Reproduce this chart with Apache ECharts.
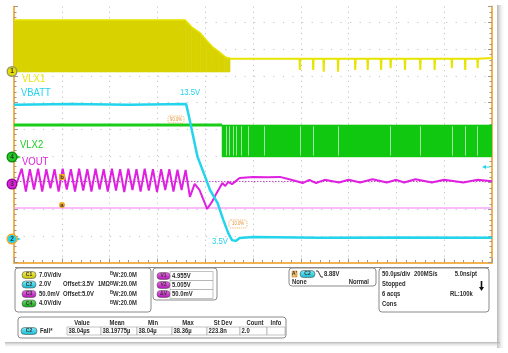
<!DOCTYPE html>
<html>
<head>
<meta charset="utf-8">
<script src="https://cdn.jsdelivr.net/npm/echarts@6/dist/echarts.min.js"></script>
<style>
html,body{margin:0;padding:0;background:#fff}
#scope{width:508px;height:353px}
</style>
</head>
<body>
<div id="scope"></div>
<script>
// x: time in µs (50 µs/div), y: screen divisions counted from graticule bottom

// VLX1 (yellow) switching node: envelope of the burst, then the idle level with spikes
var vlx1Times = [0, 179, 186, 195, 201, 208, 215, 220, 223, 226];
var vlx1Top = [9.09, 9.09, 8.83, 8.60, 8.34, 8.08, 7.89, 7.74, 7.67, 7.67];
var vlx1Ground = 7.14;
var vlx1Idle = 7.64;
var vlx1SpikeTimes = [299, 313, 324, 339, 357, 370, 384, 394, 409, 425, 440, 458, 472, 485];
var vlx1SpikeLows = [7.22, 7.22, 7.15, 7.15, 7.22, 7.22, 7.22, 7.29, 7.22, 7.22, 7.22, 7.29, 7.22, 7.29];

// VBATT (cyan)
var vbattTimes = [0, 60, 120, 180, 182, 186, 192, 200, 205, 213, 219, 224, 228, 232, 236, 250, 320, 400, 500];
var vbattDiv = [5.92, 5.94, 5.92, 5.94, 5.64, 4.97, 3.96, 3.21, 2.72, 2.23, 1.59, 1.11, 0.84, 0.81, 0.92, 0.96, 0.93, 0.94, 0.93];

// VLX2 (green)
var vlx2Start = 217.6;
var vlx2Low = 3.96;
var vlx2High = 5.16;
var vlx2Stripes = [222, 225, 229, 233, 238, 245, 262, 299, 313, 339, 394, 425, 458, 472, 485];

// VOUT (magenta)
var voutTimes = [3, 8.1, 12.4, 16.6, 20.9, 25.2, 29.5, 33.8, 38.1, 42.4, 46.7, 50.9, 55.2, 59.5, 63.8,
  68.1, 72.4, 76.7, 81.0, 85.3, 89.5, 93.8, 98.1, 102.4, 106.7, 111.0, 115.3, 119.6, 123.9, 128.1,
  132.4, 136.7, 141.0, 145.3, 149.6, 153.9, 158.2, 162.5, 166.8, 171.0, 175.3, 179.5,
  184, 189, 194, 202, 207, 212, 218, 221, 224, 228, 236, 250, 265, 278, 290, 302, 309, 316, 325,
  340, 350, 362, 375, 390, 400, 408, 420, 437, 450, 470, 485, 500];
var voutDiv = [3.0, 3.52, 2.66, 3.50, 2.74, 3.52, 2.66, 3.50, 2.78, 3.50, 2.66, 3.52, 2.74, 3.50, 2.66,
  3.52, 2.70, 3.50, 2.66, 3.52, 2.74, 3.50, 2.66, 3.52, 2.70, 3.50, 2.64, 3.52, 2.72, 3.50,
  2.66, 3.52, 2.70, 3.50, 2.64, 3.50, 2.72, 3.50, 2.66, 3.48, 2.72, 3.47,
  2.46, 2.95, 2.72, 2.01, 2.27, 2.61, 2.98, 2.87, 3.02, 2.94, 3.17, 3.21, 3.20, 3.21, 3.10, 2.98, 3.10, 2.98, 3.10,
  3.00, 3.10, 3.00, 3.12, 3.00, 3.10, 3.00, 3.12, 3.00, 3.10, 3.00, 3.10, 3.05];

// cursor levels (V1 = 4.955V, V2 = 5.005V on ch3)
var cursorV1 = 2.04;
var cursorV2 = 3.04;

var FONT = '"Liberation Sans", Arial, sans-serif';

function pairs(xs, ys) {
  var out = [];
  for (var i = 0; i < xs.length; i++) out.push([xs[i], ys[i]]);
  return out;
}

function vlx1TailData() {
  var d = [[vlx1Times[vlx1Times.length - 1], vlx1Idle]];
  for (var i = 0; i < vlx1SpikeTimes.length; i++) {
    var t = vlx1SpikeTimes[i];
    d.push([t - 0.4, vlx1Idle], [t, vlx1SpikeLows[i]], [t + 0.4, vlx1Idle]);
  }
  d.push([500, 7.67]);
  return d;
}

// filled envelope between two levels, drawn through the chart's own coordinate system
function bandSeries(name, times, lows, highs, fill, z) {
  var rows = times.map(function (t, i) { return [t, lows[i], highs[i]]; });
  return {
    name: name, type: 'custom', silent: true, z: z, clip: true,
    encode: {x: 0, y: [1, 2]},
    data: rows,
    renderItem: function (params, api) {
      var i = params.dataIndex;
      if (i >= rows.length - 1) return null;
      var a = rows[i], b = rows[i + 1];
      return {
        type: 'polygon',
        shape: {points: [api.coord([a[0], a[2]]), api.coord([b[0], b[2]]), api.coord([b[0], b[1]]), api.coord([a[0], a[1]])]},
        style: {fill: fill, stroke: fill, lineWidth: 0.5}
      };
    }
  };
}

// text squeezed horizontally to mimic the scope's narrow font
function txt(x, y, s, color, size, align, weight, sx) {
  return {
    type: 'text', x: x, y: y, z: 100, silent: true, scaleX: sx || 0.84,
    style: {text: s, x: 0, y: 0, fill: color, font: (weight || 'normal') + ' ' + size + 'px ' + FONT,
      textAlign: align || 'left', textVerticalAlign: 'middle'}
  };
}

function box(x, y, w, h) {
  return {type: 'rect', z: 90, silent: true, shape: {x: x, y: y, width: w, height: h, r: 3},
    style: {fill: '#fff', stroke: '#8a8a8a', lineWidth: 1}};
}

function cell(x, y, w, h) {
  return {type: 'rect', z: 91, silent: true, shape: {x: x, y: y, width: w, height: h},
    style: {fill: '#fff', stroke: '#9a9a9a', lineWidth: 0.6}};
}

function badge(x, y, w, label, c1, c2) {
  return {
    type: 'group', z: 95, silent: true,
    children: [
      {type: 'rect', z: 95, shape: {x: x, y: y - 3.5, width: w, height: 7, r: 3.5},
        style: {fill: new echarts.graphic.LinearGradient(0, 0, 0, 1, [{offset: 0, color: c1}, {offset: 1, color: c2}]),
          stroke: '#555', lineWidth: 0.6}},
      {type: 'text', z: 96, x: x + w / 2, y: y,
        style: {text: label, fill: '#333', font: 'bold 5px ' + FONT, textAlign: 'center', textVerticalAlign: 'middle'}}
    ]
  };
}

function chMarker(y, num, fill, ring, arrow) {
  var kids = [
    {type: 'circle', z: 100, shape: {cx: 12, cy: y, r: 4.8}, style: {fill: fill, stroke: ring, lineWidth: 1.4}},
    {type: 'text', z: 101, x: 12, y: y, style: {text: num, fill: '#333', font: 'bold 6.5px ' + FONT, textAlign: 'center', textVerticalAlign: 'middle'}}
  ];
  if (arrow) {
    kids.push({type: 'polygon', z: 99, shape: {points: [[16, y - 2], [21, y], [16, y + 2]]}, style: {fill: arrow}});
  }
  return {type: 'group', silent: true, children: kids};
}

function bwText(x, y) {
  return {
    type: 'text', x: x, y: y, z: 100, silent: true, scaleX: 0.84,
    style: {
      text: '{b|B}{w|W}{n|:20.0M}', x: 0, y: 0, textVerticalAlign: 'middle',
      rich: {
        b: {font: 'bold 5px ' + FONT, fill: '#333', verticalAlign: 'top'},
        w: {font: 'bold 7px ' + FONT, fill: '#333'},
        n: {font: 'bold 7px ' + FONT, fill: '#333'}
      }
    }
  };
}

var dark = '#2b2b2b';
var PS = 7;
var graphics = [
  // window shadow
  {type: 'rect', z: 1, silent: true, shape: {x: 497, y: 5, width: 8, height: 343},
    style: {fill: new echarts.graphic.LinearGradient(0, 0, 1, 0, [{offset: 0, color: '#b4b4b4'}, {offset: 1, color: 'rgba(255,255,255,0)'}])}},
  {type: 'rect', z: 1, silent: true, shape: {x: 5, y: 342, width: 495, height: 6},
    style: {fill: new echarts.graphic.LinearGradient(0, 0, 0, 1, [{offset: 0, color: '#b4b4b4'}, {offset: 1, color: 'rgba(255,255,255,0)'}])}},
  {type: 'line', z: 89, silent: true, shape: {x1: 15, y1: 267.5, x2: 489, y2: 267.5}, style: {stroke: '#8a8a8a', lineWidth: 1}},

  // trace labels
  txt(22, 79, 'VLX1', '#ece400', 11, 'left', 'normal', 0.86),
  txt(21, 92.5, 'VBATT', '#22d4ec', 11, 'left', 'normal', 0.86),
  txt(20, 144.5, 'VLX2', '#22cc22', 11, 'left', 'normal', 0.86),
  txt(22, 161.5, 'VOUT', '#e020e0', 11, 'left', 'normal', 0.86),
  txt(180, 93, '13.5V', '#22d4ec', 9, 'left', 'normal', 0.86),
  txt(212, 241.5, '3.5V', '#22d4ec', 9, 'left', 'normal', 0.86),

  // 90% / 10% reference boxes
  {type: 'rect', z: 100, silent: true, shape: {x: 168, y: 116, width: 16, height: 7, r: 2},
    style: {fill: 'rgba(255,255,255,0.85)', stroke: '#f0a040', lineWidth: 0.8, lineDash: [1.2, 1]}},
  txt(176, 119.5, '90.0%', '#e08a30', 5, 'center'),
  {type: 'rect', z: 100, silent: true, shape: {x: 229, y: 220, width: 18, height: 8, r: 2},
    style: {fill: 'rgba(255,255,255,0.85)', stroke: '#f0a040', lineWidth: 0.8, lineDash: [1.2, 1]}},
  txt(238, 224, '10.0%', '#e08a30', 5, 'center'),

  // cursor tags
  {type: 'rect', z: 100, silent: true, shape: {x: 59, y: 174, width: 6, height: 6}, style: {fill: '#f5a623'}},
  txt(62, 177, 'b', '#333', 6, 'center', 'bold', 1),
  {type: 'rect', z: 100, silent: true, shape: {x: 59, y: 202, width: 6, height: 6, r: 3}, style: {fill: '#f5a623'}},
  txt(62, 205, 'a', '#333', 6, 'center', 'bold', 1),

  // channel ground markers
  chMarker(71.5, '1', '#e6de00', '#9a9a60'),
  chMarker(157, '4', '#22cc22', '#118811', '#22cc22'),
  chMarker(184, '3', '#e020e0', '#901090'),
  chMarker(239, '2', '#22d4ec', '#f5a623', '#22d4ec'),
  {type: 'polygon', z: 100, silent: true, shape: {points: [[482, 167], [486, 165], [486, 169]]}, style: {fill: '#22d4ec'}},
  {type: 'line', z: 100, silent: true, shape: {x1: 485, y1: 167, x2: 490, y2: 167}, style: {stroke: '#22d4ec', lineWidth: 1}},

  // channel settings box
  box(15, 268, 136, 44),
  badge(22, 275, 14, 'C1', '#f4f060', '#c8c000'),
  txt(39, 275, '7.0V/div', dark, PS, 'left', 'bold'),
  bwText(110, 275),
  badge(22, 284.5, 14, 'C2', '#80eefa', '#10b8d0'),
  txt(39, 284.5, '2.0V', dark, PS, 'left', 'bold'),
  txt(63, 284.5, 'Offset:3.5V', dark, PS, 'left', 'bold'),
  txt(98, 284.5, '1MΩ', dark, PS, 'left', 'bold', 0.78),
  bwText(110, 284.5),
  badge(22, 294, 14, 'C3', '#f070f0', '#b010b0'),
  txt(39, 294, '50.0mV', dark, PS, 'left', 'bold'),
  txt(63, 294, 'Offset:5.0V', dark, PS, 'left', 'bold'),
  bwText(110, 294),
  badge(22, 303.5, 14, 'C4', '#70e070', '#10a010'),
  txt(39, 303.5, '4.0V/div', dark, PS, 'left', 'bold'),
  bwText(110, 303.5),

  // cursor readout box
  box(153, 268, 64, 32),
  cell(170, 271.5, 43, 9), cell(170, 280.5, 43, 9), cell(170, 289.5, 43, 9),
  badge(157, 276, 13, 'V1', '#f070f0', '#b010b0'),
  txt(172, 276, '4.955V', dark, PS, 'left', 'bold'),
  badge(157, 285, 13, 'V2', '#f070f0', '#b010b0'),
  txt(172, 285, '5.005V', dark, PS, 'left', 'bold'),
  badge(157, 294, 13, 'ΔV', '#f070f0', '#b010b0'),
  txt(172, 294, '50.0mV', dark, PS, 'left', 'bold'),

  // trigger box
  box(289, 268, 87, 18),
  {type: 'rect', z: 95, silent: true, shape: {x: 292, y: 271, width: 5, height: 6}, style: {fill: '#f5c060', stroke: '#b07020', lineWidth: 0.5}},
  txt(294.5, 274, "A'", '#333', 5, 'center', 'bold', 1),
  badge(300, 274, 15, 'C2', '#80eefa', '#10b8d0'),
  {type: 'polyline', z: 95, silent: true, shape: {points: [[316, 271], [318, 271], [321, 277], [323, 277]]}, style: {stroke: '#222', lineWidth: 0.9, fill: null}},
  txt(324, 274, '8.88V', dark, PS, 'left', 'bold'),
  txt(292, 282, 'None', dark, PS, 'left', 'bold'),
  txt(369, 282, 'Normal', dark, PS, 'right', 'bold'),

  // acquisition box
  box(379, 268, 110, 44),
  txt(382, 274.5, '50.0µs/div', dark, PS, 'left', 'bold'),
  txt(414, 274.5, '200MS/s', dark, PS, 'left', 'bold'),
  txt(477, 274.5, '5.0ns/pt', dark, PS, 'right', 'bold'),
  txt(382, 284.5, 'Stopped', dark, PS, 'left', 'bold'),
  {type: 'line', z: 95, silent: true, shape: {x1: 481.5, y1: 281, x2: 481.5, y2: 288}, style: {stroke: '#111', lineWidth: 1.6}},
  {type: 'polygon', z: 95, silent: true, shape: {points: [[479, 287], [484, 287], [481.5, 291]]}, style: {fill: '#111'}},
  txt(382, 294.5, '6 acqs', dark, PS, 'left', 'bold'),
  txt(450, 294.5, 'RL:100k', dark, PS, 'left', 'bold'),
  txt(382, 304.5, 'Cons', dark, PS, 'left', 'bold'),

  // measurement box
  box(18, 317, 268, 21),
  txt(82, 323.5, 'Value', dark, PS, 'center', 'bold'),
  txt(117, 323.5, 'Mean', dark, PS, 'center', 'bold'),
  txt(153, 323.5, 'Min', dark, PS, 'center', 'bold'),
  txt(188, 323.5, 'Max', dark, PS, 'center', 'bold'),
  txt(223, 323.5, 'St Dev', dark, PS, 'center', 'bold'),
  txt(255, 323.5, 'Count', dark, PS, 'center', 'bold'),
  txt(276, 323.5, 'Info', dark, PS, 'center', 'bold'),
  cell(67, 327, 34, 8), cell(101, 327, 36, 8), cell(137, 327, 35, 8), cell(172, 327, 35, 8),
  cell(207, 327, 33, 8), cell(240, 327, 27, 8), cell(267, 327, 18, 8),
  badge(21, 331, 16, 'C2', '#80eefa', '#10b8d0'),
  txt(40, 331, 'Fall*', dark, PS, 'left', 'bold'),
  txt(68.5, 331, '38.04µs', dark, PS, 'left', 'bold'),
  txt(102.5, 331, '38.19775µ', dark, PS, 'left', 'bold'),
  txt(138.5, 331, '38.04µ', dark, PS, 'left', 'bold'),
  txt(173.5, 331, '38.36µ', dark, PS, 'left', 'bold'),
  txt(208.5, 331, '223.8n', dark, PS, 'left', 'bold'),
  txt(241.5, 331, '2.0', dark, PS, 'left', 'bold')
];

var tickColor = '#9a9a9a';
var frameColor = '#f4b24e';

var option = {
  animation: false,
  backgroundColor: '#fff',
  grid: {left: 14, top: 6.5, width: 478, height: 256, containLabel: false},
  xAxis: {
    type: 'value', min: 0, max: 500, interval: 50,
    axisLine: {show: true, onZero: false, lineStyle: {color: frameColor, width: 2}},
    axisTick: {show: true, inside: true, length: 4, lineStyle: {color: tickColor}},
    minorTick: {show: true, splitNumber: 5, length: 2.5, lineStyle: {color: tickColor}},
    axisLabel: {show: false},
    splitLine: {show: true, lineStyle: {color: '#c4c4c4', width: 1, type: [1.2, 4.1]}}
  },
  yAxis: [{
    type: 'value', min: 0, max: 9.6, interval: 1, position: 'left',
    axisLine: {show: true, onZero: false, lineStyle: {color: frameColor, width: 2}},
    axisTick: {show: true, inside: true, length: 4, lineStyle: {color: tickColor}},
    minorTick: {show: true, splitNumber: 5, length: 2.5, lineStyle: {color: tickColor}},
    axisLabel: {show: false},
    splitLine: {show: true, showMaxLine: false, showMinLine: false, lineStyle: {color: '#c4c4c4', width: 1, type: [1.2, 8.4]}}
  }, {
    type: 'value', min: 0, max: 9.6, interval: 1, position: 'right',
    axisLine: {show: true, onZero: false, lineStyle: {color: frameColor, width: 2}},
    axisTick: {show: true, inside: true, length: 4, lineStyle: {color: tickColor}},
    minorTick: {show: true, splitNumber: 5, length: 2.5, lineStyle: {color: tickColor}},
    axisLabel: {show: false},
    splitLine: {show: false}
  }],
  graphic: graphics,
  series: [
    {name: 'V1', type: 'line', symbol: 'none', silent: true, z: 2,
      data: [[0, cursorV1], [500, cursorV1]], lineStyle: {color: '#f7a8f7', width: 1.5}},
    {name: 'V2', type: 'line', symbol: 'none', silent: true, z: 2,
      data: [[0, cursorV2], [500, cursorV2]], lineStyle: {color: '#c040c0', width: 1, type: [1.5, 1.5]}},
    bandSeries('VLX1 burst', vlx1Times, vlx1Times.map(function () { return vlx1Ground; }), vlx1Top, '#d7d200', 3),
    {name: 'VLX1', type: 'line', symbol: 'none', silent: true, z: 3,
      data: pairs(vlx1Times, vlx1Top), lineStyle: {color: '#e8e400', width: 1.5}},
    {name: 'VLX1 idle', type: 'line', symbol: 'none', silent: true, z: 3,
      data: vlx1TailData(), lineStyle: {color: '#e8e400', width: 2}},
    bandSeries('VLX2 burst', [vlx2Start, 500], [vlx2Low, vlx2Low], [vlx2High, vlx2High], '#10c810', 3),
    {name: 'VLX2', type: 'line', symbol: 'none', silent: true, z: 4,
      data: [[0, vlx2High], [vlx2Start, vlx2High]], lineStyle: {color: '#18cc18', width: 3},
      markLine: {symbol: 'none', silent: true, animation: false, label: {show: false},
        lineStyle: {color: '#9ee89e', width: 1, type: 'solid'},
        data: vlx2Stripes.map(function (t) { return [{coord: [t, vlx2Low + 0.05]}, {coord: [t, vlx2High - 0.05]}]; })}},
    {name: 'VOUT', type: 'line', symbol: 'none', silent: true, z: 5,
      data: pairs(voutTimes, voutDiv), lineStyle: {color: '#e020e0', width: 2}},
    {name: 'VBATT', type: 'line', symbol: 'none', silent: true, z: 6,
      data: pairs(vbattTimes, vbattDiv), lineStyle: {color: '#22d4ec', width: 2.5}}
  ]
};

var chart = echarts.init(document.getElementById('scope'));
chart.setOption(option);
</script>
</body>
</html>
